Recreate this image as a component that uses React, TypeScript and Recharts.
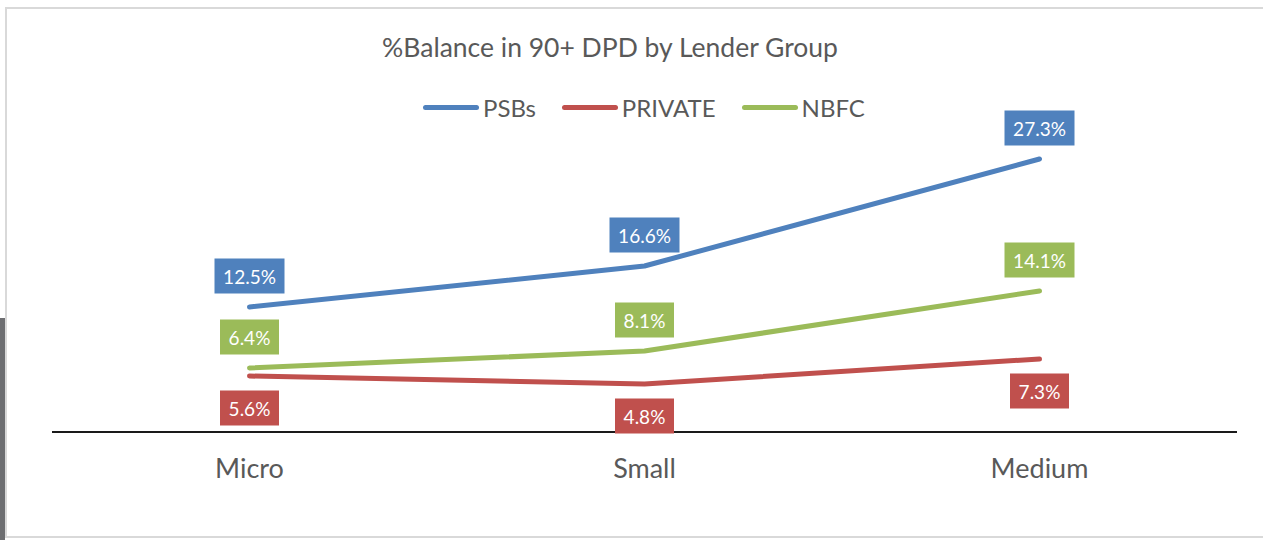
import { LineChart, Line, XAxis, YAxis, LabelList } from 'recharts';

const categories = ['Micro', 'Small', 'Medium'];
const psbs = [12.5, 16.6, 27.3];
const privateBanks = [5.6, 4.8, 7.3];
const nbfc = [6.4, 8.1, 14.1];

const series = [
    { key: 'psbs', name: 'PSBs', color: '#4f81bd', values: psbs, labelPos: 'above' },
    { key: 'private', name: 'PRIVATE', color: '#c0504d', values: privateBanks, labelPos: 'below' },
    { key: 'nbfc', name: 'NBFC', color: '#9bbb59', values: nbfc, labelPos: 'above' },
];

const data = categories.map((name, i) => ({
    name,
    psbs: psbs[i],
    private: privateBanks[i],
    nbfc: nbfc[i],
}));

const FONT = 'Lato, "Open Sans", sans-serif';
const TEXT = '#595959';

function makeLabel(color: string, pos: string) {
    return (props: any) => {
        const { x, y, value } = props;
        const text = `${Number(value).toFixed(1)}%`;
        const w = text.length * 11 + 15;
        const h = 35;
        const cy = pos === 'above' ? y - 31 : y + 32;
        return (
            <g>
                <rect x={x - w / 2} y={cy - h / 2} width={w} height={h} fill={color} />
                <text
                    x={x}
                    y={cy}
                    fill="#fff"
                    fontSize={19}
                    fontFamily={FONT}
                    textAnchor="middle"
                    dominantBaseline="central"
                >
                    {text}
                </text>
            </g>
        );
    };
}

export default function App() {
    return (
        <div
            style={{
                position: 'absolute',
                left: 0,
                top: 0,
                width: 1263,
                height: 540,
                background: '#fff',
                overflow: 'hidden',
                fontFamily: FONT,
            }}
        >
            {/* frame */}
            <div
                style={{
                    position: 'absolute',
                    left: 5,
                    top: 7,
                    width: 1270,
                    height: 531,
                    border: '2px solid #d9d9d9',
                    boxSizing: 'border-box',
                }}
            />
            <div style={{ position: 'absolute', left: 0, top: 318, width: 5, height: 222, background: '#6d6e71' }} />

            <div
                style={{
                    position: 'absolute',
                    left: 360,
                    top: 31,
                    width: 500,
                    textAlign: 'center',
                    fontSize: 26.5,
                    color: TEXT,
                    whiteSpace: 'nowrap',
                }}
            >
                %Balance in 90+ DPD by Lender Group
            </div>

            <div
                style={{
                    position: 'absolute',
                    left: 423,
                    top: 93,
                    display: 'flex',
                    alignItems: 'center',
                    fontSize: 24,
                    color: TEXT,
                    whiteSpace: 'nowrap',
                }}
            >
                {series.map((s) => (
                    <div key={s.key} style={{ display: 'flex', alignItems: 'center', marginRight: 26 }}>
                        <div style={{ width: 56, height: 5, borderRadius: 3, background: s.color, marginRight: 4 }} />
                        <span>{s.name}</span>
                    </div>
                ))}
            </div>

            <div style={{ position: 'absolute', left: 0, top: 0 }}>
                <LineChart width={1263} height={540} data={data} margin={{ top: 132, right: 26, bottom: 0, left: 52 }}>
                    <XAxis
                        dataKey="name"
                        height={108}
                        padding={{ left: 197.5, right: 197.5 }}
                        axisLine={{ stroke: '#1a1a1a', strokeWidth: 2 }}
                        tickLine={false}
                        tickSize={0}
                        tickMargin={27}
                        tick={{ fill: TEXT, fontSize: 27, fontFamily: FONT }}
                    />
                    <YAxis hide domain={[0, 30]} />
                    {series.map((s) => (
                        <Line
                            key={s.key}
                            dataKey={s.key}
                            name={s.name}
                            type="linear"
                            stroke={s.color}
                            strokeWidth={5}
                            strokeLinecap="round"
                            strokeLinejoin="round"
                            dot={false}
                            activeDot={false}
                            isAnimationActive={false}
                        >
                            <LabelList dataKey={s.key} content={makeLabel(s.color, s.labelPos)} />
                        </Line>
                    ))}
                </LineChart>
            </div>
        </div>
    );
}
